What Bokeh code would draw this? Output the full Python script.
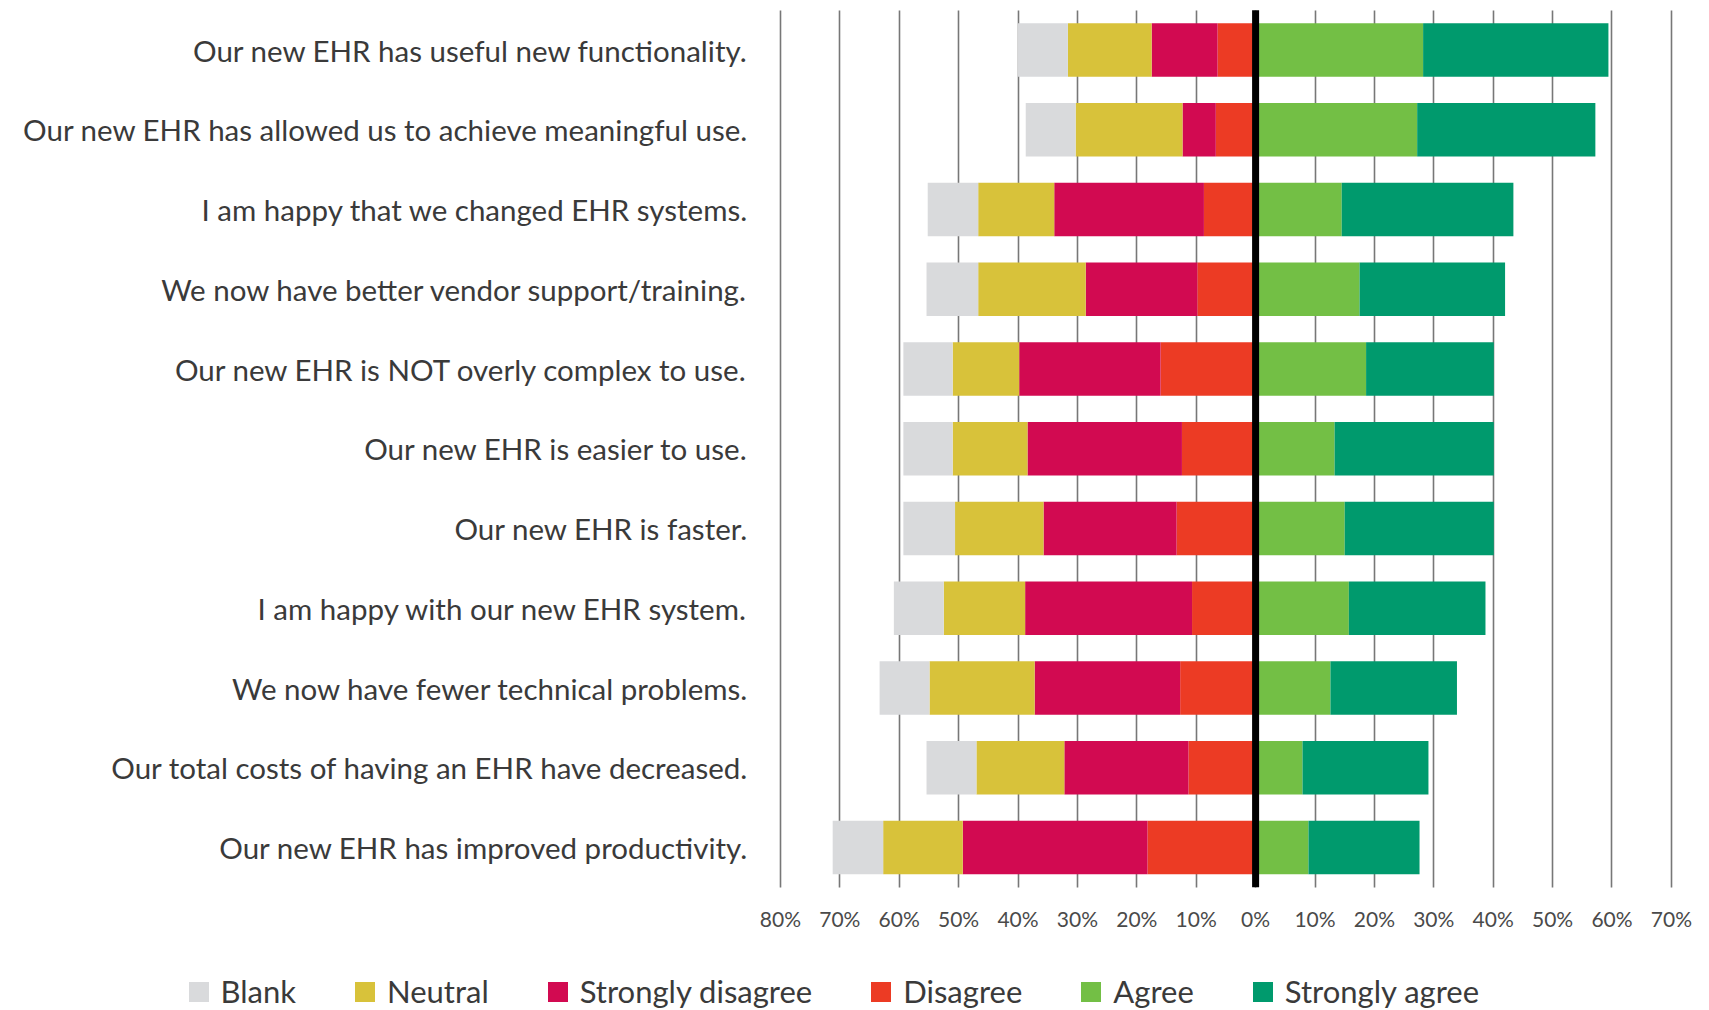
from bokeh.plotting import figure
from bokeh.models import (ColumnDataSource, Range1d, FixedTicker, BoxAnnotation,
                          Legend, LegendItem)
from bokeh.embed import file_html
from bokeh.resources import INLINE

statements = [
    "Our new EHR has useful new functionality.",
    "Our new EHR has allowed us to achieve meaningful use.",
    "I am happy that we changed EHR systems.",
    "We now have better vendor support/training.",
    "Our new EHR is NOT overly complex to use.",
    "Our new EHR is easier to use.",
    "Our new EHR is faster.",
    "I am happy with our new EHR system.",
    "We now have fewer technical problems.",
    "Our total costs of having an EHR have decreased.",
    "Our new EHR has improved productivity.",
]
blank = [8.4, 8.4, 8.5, 8.7, 8.3, 8.3, 8.7, 8.4, 8.4, 8.4, 8.5]
neutral = [14.1, 18.0, 12.8, 18.1, 11.2, 12.6, 14.9, 13.7, 17.7, 14.8, 13.4]
strongly_disagree = [11.1, 5.6, 25.2, 18.8, 23.8, 26.0, 22.4, 28.1, 24.5, 20.9, 31.1]
disagree = [6.4, 6.7, 8.7, 9.8, 16.0, 12.4, 13.3, 10.7, 12.7, 11.3, 18.2]
agree = [28.2, 27.2, 14.5, 17.5, 18.6, 13.3, 15.0, 15.7, 12.6, 7.9, 8.9]
strongly_agree = [31.2, 30.0, 28.9, 24.5, 21.5, 26.8, 25.1, 23.0, 21.3, 21.2, 18.7]

tick_values = [-80, -70, -60, -50, -40, -30, -20, -10, 0, 10, 20, 30, 40, 50, 60, 70]
tick_labels = ["80%", "70%", "60%", "50%", "40%", "30%", "20%", "10%", "0%",
               "10%", "20%", "30%", "40%", "50%", "60%", "70%"]

colors = {
    "Blank": "#d9dadc",
    "Neutral": "#d8c23a",
    "Strongly disagree": "#d20a51",
    "Disagree": "#ec3b24",
    "Agree": "#73bf45",
    "Strongly agree": "#009a6d",
}

FONT = "Lato"
TEXT = "#3a3a3a"

n = len(statements)
row_pos = [n - i for i in range(n)]          # first statement on top

src = ColumnDataSource(dict(
    y=row_pos,
    d_neg=[-v for v in disagree],
    sd_neg=[-v for v in strongly_disagree],
    n_neg=[-v for v in neutral],
    b_neg=[-v for v in blank],
    a=agree,
    sa=strongly_agree,
))

# the frame covers the whole canvas; axes are pinned inside it
p = figure(width=1700, height=1010, output_backend="svg", toolbar_location=None,
           x_range=Range1d(-211.3, 74.9), y_range=Range1d(-1.044, 11.621),
           min_border=0)
p.outline_line_color = None
p.background_fill_color = "white"

left = p.hbar_stack(["d_neg", "sd_neg", "n_neg", "b_neg"], y="y", height=0.67,
                    source=src,
                    color=[colors["Disagree"], colors["Strongly disagree"],
                           colors["Neutral"], colors["Blank"]],
                    line_color=None)
right = p.hbar_stack(["a", "sa"], y="y", height=0.67, source=src,
                     color=[colors["Agree"], colors["Strongly agree"]],
                     line_color=None)

grid_bottom, grid_top = 0.5, n + 0.5

# thick zero line
p.add_layout(BoxAnnotation(left=-0.59, right=0.59, bottom=grid_bottom, top=grid_top,
                           fill_color="black", fill_alpha=1, line_color=None,
                           level="overlay"))

p.ygrid.grid_line_color = None
p.xgrid.ticker = FixedTicker(ticks=tick_values)
p.xgrid.grid_line_color = "#777777"
p.xgrid.grid_line_width = 1.6
p.xgrid.cross_bounds = (grid_bottom, grid_top)

p.xaxis.ticker = FixedTicker(ticks=tick_values)
p.xaxis.fixed_location = grid_bottom
p.xaxis.major_label_overrides = {v: l for v, l in zip(tick_values, tick_labels)}
p.xaxis.axis_line_color = None
p.xaxis.major_tick_line_color = None
p.xaxis.minor_tick_line_color = None
p.xaxis.major_tick_out = 0
p.xaxis.major_tick_in = 0
p.xaxis.major_label_standoff = 19
p.xaxis.major_label_text_font = FONT
p.xaxis.major_label_text_font_size = "21px"
p.xaxis.major_label_text_color = "#4a4a4a"

p.yaxis.ticker = FixedTicker(ticks=row_pos)
p.yaxis.fixed_location = -81
p.yaxis.major_label_overrides = {pos: s for pos, s in zip(row_pos, statements)}
p.yaxis.axis_line_color = None
p.yaxis.major_tick_line_color = None
p.yaxis.minor_tick_line_color = None
p.yaxis.major_tick_out = 0
p.yaxis.major_tick_in = 0
p.yaxis.major_label_standoff = 26
p.yaxis.major_label_text_font = FONT
p.yaxis.major_label_text_font_size = "29.5px"
p.yaxis.major_label_text_color = TEXT

items = [
    LegendItem(label="Blank", renderers=[left[3]]),
    LegendItem(label="Neutral", renderers=[left[2]]),
    LegendItem(label="Strongly disagree", renderers=[left[1]]),
    LegendItem(label="Disagree", renderers=[left[0]]),
    LegendItem(label="Agree", renderers=[right[0]]),
    LegendItem(label="Strongly agree", renderers=[right[1]]),
]
legend = Legend(items=items, orientation="horizontal", location=(185.5, 0),
                padding=0, margin=0, spacing=56, label_standoff=10,
                glyph_width=25, glyph_height=25, label_height=20,
                label_text_font=FONT, label_text_font_size="31px",
                label_text_color=TEXT, border_line_color=None,
                background_fill_alpha=0)
p.add_layout(legend, "center")

open("out.html", "w").write(file_html(p, INLINE))
